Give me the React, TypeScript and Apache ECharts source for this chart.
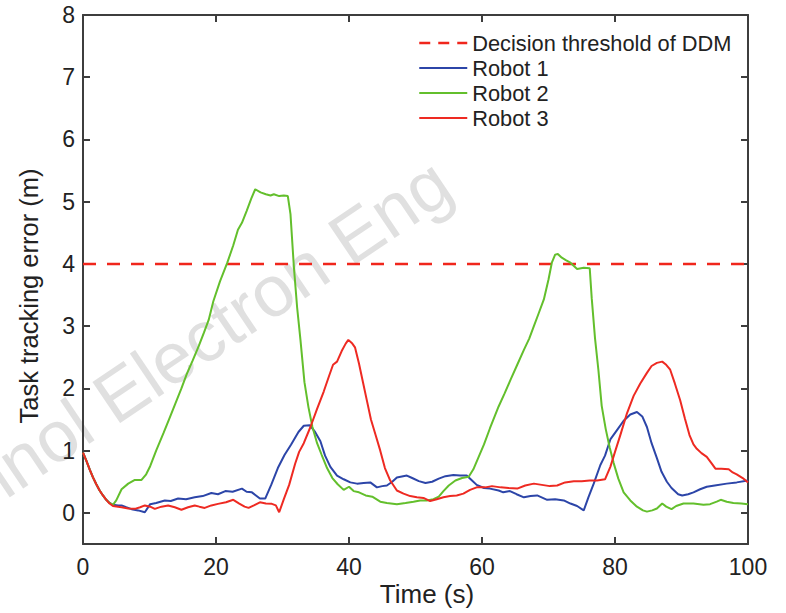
import React, { useEffect, useRef } from 'react';
import * as echarts from 'echarts';

const FONT = "'Liberation Sans', Arial, Helvetica, sans-serif";

const xTickValues = [0, 20, 40, 60, 80, 100];
const yTickValues = [0, 1, 2, 3, 4, 5, 6, 7, 8];
const xTitle = 'Time (s)';
const yTitle = 'Task tracking error (m)';
const seriesNames = ['Decision threshold of DDM', 'Robot 1', 'Robot 2', 'Robot 3'];
const watermarkText = 'Technol Electron Eng';

const thresholdLine: [number, number][] = [[0, 4], [100, 4]];

const robot1: [number, number][] = [
  [0, 0.97], [0.5, 0.84], [1, 0.7], [1.5, 0.57], [2, 0.46], [2.5, 0.36], [3, 0.28], [3.5, 0.21], [4, 0.16], [4.5, 0.13],
  [5.3, 0.12], [5.8, 0.12], [6.5, 0.09], [7.3, 0.06], [8.3, 0.04], [9.3, 0.01], [10.1, 0.14], [11, 0.16], [12.3, 0.2],
  [13.2, 0.19], [14.3, 0.23], [15.5, 0.22], [16.8, 0.25], [18, 0.27], [19.3, 0.32], [20.3, 0.3], [21.4, 0.35], [22.5, 0.34],
  [23.9, 0.39], [24.6, 0.34], [25.4, 0.33], [26.6, 0.23], [27.4, 0.23], [28.3, 0.45], [29.3, 0.72], [30.3, 0.93], [31.3, 1.1],
  [32.4, 1.3], [33.2, 1.4], [34.1, 1.41], [34.9, 1.3], [35.7, 1.15], [36.4, 0.92], [37.2, 0.74], [38.2, 0.6], [39.2, 0.54],
  [40.2, 0.49], [41.2, 0.47], [42.2, 0.48], [43.2, 0.49], [44.2, 0.41], [45, 0.43], [45.7, 0.44], [46.5, 0.5], [47.2, 0.57],
  [48.7, 0.6], [49.5, 0.56], [50.5, 0.51], [51.5, 0.48], [52.5, 0.5], [53.5, 0.55], [54.5, 0.59], [55.7, 0.61], [56.7, 0.6],
  [57.7, 0.6], [58.5, 0.52], [59.2, 0.45], [60.3, 0.4], [61.2, 0.39], [62.5, 0.36], [63.2, 0.33], [64.2, 0.35], [65.2, 0.3],
  [66.3, 0.25], [67.3, 0.27], [68.3, 0.28], [69.8, 0.21], [71, 0.22], [72.3, 0.2], [73.3, 0.15], [74.3, 0.11], [75.3, 0.04],
  [76, 0.25], [76.8, 0.47], [77.8, 0.77], [78.5, 0.92], [79.3, 1.18], [80.3, 1.33], [81.3, 1.48], [82.3, 1.58], [83.3, 1.62],
  [84.1, 1.55], [84.8, 1.38], [85.5, 1.12], [86.3, 0.88], [87, 0.66], [87.8, 0.5], [88.5, 0.4], [89.5, 0.3], [90.1, 0.28],
  [91, 0.3], [91.8, 0.33], [92.8, 0.38], [93.8, 0.42], [95, 0.44], [96.8, 0.47], [98.3, 0.49], [100, 0.52],
];

const robot2: [number, number][] = [
  [0, 0.97], [0.5, 0.84], [1, 0.7], [1.5, 0.57], [2, 0.46], [2.5, 0.36], [3, 0.28], [3.5, 0.21], [4, 0.16], [4.5, 0.13],
  [5, 0.2], [5.8, 0.38], [6.8, 0.47], [7.8, 0.53], [8.8, 0.53], [9.5, 0.62], [10.1, 0.75], [11, 1.0], [12.1, 1.28], [13, 1.52],
  [13.9, 1.76], [14.8, 2.0], [15.6, 2.23], [16.5, 2.45], [17.4, 2.68], [18.2, 2.9], [18.9, 3.1], [19.6, 3.4], [20.6, 3.72],
  [21.7, 4.02], [22.6, 4.3], [23.3, 4.55], [23.9, 4.66], [24.6, 4.85], [25.3, 5.05], [25.9, 5.2], [26.7, 5.15], [27.5, 5.12],
  [28.2, 5.1], [28.7, 5.12], [29.5, 5.09], [30.2, 5.1], [30.8, 5.09], [31.2, 4.8], [31.7, 3.97], [32.2, 3.3], [32.7, 2.78],
  [33.3, 2.1], [33.9, 1.7], [34.5, 1.38], [35.2, 1.12], [35.9, 0.93], [36.7, 0.72], [37.5, 0.56], [38.3, 0.46], [39.2, 0.37],
  [40, 0.42], [40.7, 0.35], [41.5, 0.33], [42.5, 0.28], [43.5, 0.26], [44.7, 0.18], [45.7, 0.16], [47.2, 0.14], [48.5, 0.16],
  [49.7, 0.18], [50.7, 0.2], [51.7, 0.2], [52.7, 0.22], [53.5, 0.26], [54.2, 0.35], [55, 0.44], [56, 0.52], [57, 0.56],
  [58, 0.58], [58.7, 0.7], [59.5, 0.9], [60.3, 1.1], [61.2, 1.36], [62.5, 1.71], [63.4, 1.92], [64.3, 2.14], [65.3, 2.38],
  [66.3, 2.62], [67.1, 2.8], [67.8, 3.0], [68.5, 3.2], [69.3, 3.43], [70, 3.75], [70.5, 4.02], [71, 4.15], [71.4, 4.16],
  [72, 4.1], [72.6, 4.06], [73.3, 4.02], [74.3, 3.92], [75.3, 3.94], [76.2, 3.93], [76.5, 3.45], [77, 2.8], [77.5, 2.3],
  [78, 1.72], [78.6, 1.35], [79.2, 1.05], [79.8, 0.8], [80.5, 0.55], [81.3, 0.33], [82.3, 0.2], [83.3, 0.1], [84.2, 0.04],
  [84.8, 0.02], [85.6, 0.04], [86.3, 0.07], [87.1, 0.15], [87.7, 0.1], [88.5, 0.06], [89.2, 0.11], [90.3, 0.15], [91.8, 0.15],
  [93.3, 0.13], [94.3, 0.14], [95.3, 0.18], [95.9, 0.21], [96.8, 0.18], [97.8, 0.16], [99, 0.15], [100, 0.14],
];

const robot3: [number, number][] = [
  [0, 0.97], [0.5, 0.84], [1, 0.7], [1.5, 0.57], [2, 0.46], [2.5, 0.36], [3, 0.28], [3.5, 0.21], [4, 0.15], [4.5, 0.11],
  [5.8, 0.09], [6.8, 0.07], [7.8, 0.065], [8.6, 0.09], [9.3, 0.12], [10.1, 0.1], [10.8, 0.065], [11.8, 0.1], [12.8, 0.12],
  [13.8, 0.09], [14.8, 0.05], [15.8, 0.09], [16.8, 0.12], [17.5, 0.1], [18.3, 0.08], [19.3, 0.12], [20.3, 0.145], [21.5, 0.17],
  [22.6, 0.21], [23.5, 0.15], [24.3, 0.1], [24.9, 0.08], [25.7, 0.12], [26.6, 0.17], [27.5, 0.15], [28.4, 0.145], [29, 0.12],
  [29.5, 0.01], [30.2, 0.22], [31, 0.45], [31.9, 0.79], [32.5, 0.98], [33.2, 1.12], [34.2, 1.38], [35.2, 1.67], [36.2, 1.95],
  [37, 2.2], [37.6, 2.38], [38.2, 2.43], [38.9, 2.6], [39.5, 2.72], [39.9, 2.78], [40.5, 2.72], [40.9, 2.66], [41.5, 2.4],
  [42.1, 2.1], [42.7, 1.8], [43.3, 1.5], [44, 1.25], [44.7, 1.0], [45.4, 0.72], [46.2, 0.52], [47.2, 0.36], [48.2, 0.31],
  [49.2, 0.27], [50.2, 0.25], [51.2, 0.24], [52.2, 0.19], [53.2, 0.22], [54.2, 0.25], [55.2, 0.27], [56.2, 0.28], [57.2, 0.31],
  [58.2, 0.37], [59.2, 0.41], [60.5, 0.41], [61.5, 0.43], [62.8, 0.41], [64, 0.4], [65.3, 0.39], [66.5, 0.44], [67.8, 0.47],
  [69, 0.45], [70.2, 0.43], [71.3, 0.44], [72.5, 0.49], [73.8, 0.51], [75, 0.51], [76.2, 0.52], [77.3, 0.52], [78.5, 0.54],
  [79.3, 0.74], [80, 0.98], [80.8, 1.25], [81.8, 1.6], [82.8, 1.88], [83.8, 2.08], [84.8, 2.25], [85.5, 2.36], [86.3, 2.41],
  [87.1, 2.43], [87.7, 2.38], [88.3, 2.3], [89, 2.08], [89.8, 1.81], [90.5, 1.52], [91.2, 1.25], [91.8, 1.1], [92.3, 1.03],
  [93, 0.96], [93.8, 0.9], [94.5, 0.8], [95.1, 0.71], [96, 0.71], [97.1, 0.7], [97.7, 0.65], [98.3, 0.62], [99.2, 0.56],
  [100, 0.49],
];

const colors = { threshold: '#f0261c', r1: '#2c45a8', r2: '#63bf2c', r3: '#ee2a22' };
const axisColor = '#3d3d3d';
const textColor = '#222222';

export default function App() {
  const ref = useRef<HTMLDivElement>(null);

  useEffect(() => {
    document.body.style.margin = '0';
    const chart = echarts.init(ref.current as HTMLDivElement, null, { renderer: 'svg' });

    const axisLine = { show: true, onZero: false, lineStyle: { color: axisColor, width: 2 } };
    const axisTick = { show: true, inside: true, length: 7, lineStyle: { color: axisColor, width: 2 } };
    const labelBase = { fontSize: 23, color: textColor, fontFamily: FONT };

    const xAxisBase = {
      type: 'value',
      min: xTickValues[0],
      max: xTickValues[xTickValues.length - 1],
      interval: xTickValues[1] - xTickValues[0],
      axisLine,
      axisTick,
      splitLine: { show: false },
    };
    const yAxisBase = {
      type: 'value',
      min: -0.5,
      max: yTickValues[yTickValues.length - 1],
      splitNumber: 8,
      minInterval: 1,
      maxInterval: 1,
      axisLine,
      axisTick,
      splitLine: { show: false },
    };

    const lineSeries = (name: string, data: [number, number][], color: string, width: number, type: any) => ({
      name,
      type: 'line',
      data,
      symbol: 'none',
      showSymbol: false,
      smooth: false,
      color,
      lineStyle: { color, width, type },
      xAxisIndex: 0,
      yAxisIndex: 0,
      z: 3,
    });

    const hiddenSymbol = { opacity: 0 };

    chart.setOption({
      animation: false,
      backgroundColor: '#ffffff',
      grid: { left: 83, right: 38, top: 15, bottom: 69, containLabel: false },
      xAxis: [
        { ...xAxisBase, position: 'bottom', axisLabel: { ...labelBase, margin: 11 } },
        { ...xAxisBase, position: 'top', axisLabel: { show: false } },
      ],
      yAxis: [
        {
          ...yAxisBase,
          position: 'left',
          axisLabel: {
            ...labelBase,
            margin: 8,
            formatter: (v: number) => (v < -0.01 ? '' : String(Math.round(v))),
          },
        },
        { ...yAxisBase, position: 'right', axisLabel: { show: false } },
      ],
      legend: {
        orient: 'vertical',
        left: 418,
        top: 32,
        padding: 0,
        itemWidth: 48,
        itemHeight: 14,
        itemGap: 3,
        selectedMode: false,
        itemStyle: hiddenSymbol,
        textStyle: { fontSize: 21.8, color: textColor, fontFamily: FONT, lineHeight: 22 },
        data: [
          { name: seriesNames[0], itemStyle: hiddenSymbol, lineStyle: { type: [11, 8], width: 2.5 } },
          { name: seriesNames[1], itemStyle: hiddenSymbol },
          { name: seriesNames[2], itemStyle: hiddenSymbol },
          { name: seriesNames[3], itemStyle: hiddenSymbol },
        ],
      },
      graphic: [
        {
          type: 'text',
          x: 463,
          y: 205,
          rotation: (34 * Math.PI) / 180,
          z: 0,
          silent: true,
          style: {
            text: watermarkText,
            fontSize: 72,
            fontFamily: FONT,
            fill: '#e0e0e0',
            textAlign: 'right',
            textVerticalAlign: 'bottom',
          },
        },
        {
          type: 'text',
          x: 427,
          y: 594,
          z: 10,
          style: {
            text: xTitle,
            fontSize: 26,
            fontFamily: FONT,
            fill: textColor,
            textAlign: 'center',
            textVerticalAlign: 'middle',
          },
        },
        {
          type: 'text',
          x: 29,
          y: 296,
          rotation: Math.PI / 2,
          z: 10,
          style: {
            text: yTitle,
            fontSize: 25.5,
            fontFamily: FONT,
            fill: textColor,
            textAlign: 'center',
            textVerticalAlign: 'middle',
          },
        },
      ],
      series: [
        lineSeries(seriesNames[0], thresholdLine, colors.threshold, 2.5, [13, 11]),
        lineSeries(seriesNames[1], robot1, colors.r1, 2, 'solid'),
        lineSeries(seriesNames[2], robot2, colors.r2, 2, 'solid'),
        lineSeries(seriesNames[3], robot3, colors.r3, 2, 'solid'),
      ],
    });

    return () => chart.dispose();
  }, []);

  return <div ref={ref} style={{ width: 786, height: 613, background: '#fff' }} />;
}
